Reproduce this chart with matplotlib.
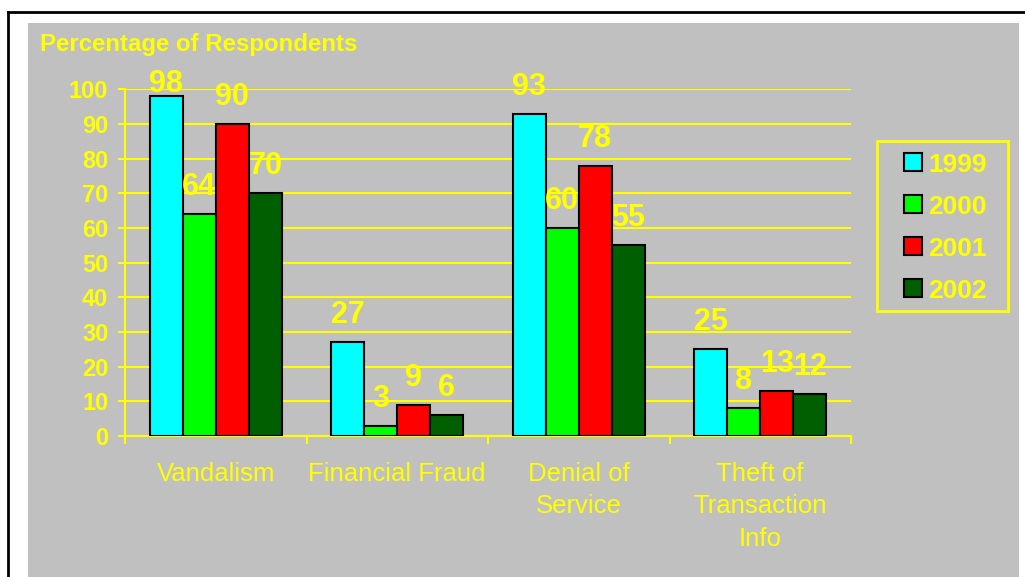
import matplotlib
matplotlib.use("Agg")
import matplotlib.pyplot as plt
from matplotlib.patches import Rectangle
from matplotlib.lines import Line2D
import numpy as np

categories = ["Vandalism", "Financial Fraud", "Denial of\nService", "Theft of\nTransaction\nInfo"]
years = ["1999", "2000", "2001", "2002"]
v1999 = [98, 27, 93, 25]
v2000 = [64, 3, 60, 8]
v2001 = [90, 9, 78, 13]
v2002 = [70, 6, 55, 12]
y_ticks = [0, 10, 20, 30, 40, 50, 60, 70, 80, 90, 100]

series = [v1999, v2000, v2001, v2002]
colors = ["#00FFFF", "#00FF00", "#FF0000", "#006000"]
YEL = "#FFFF00"
GRAY = "#C0C0C0"
FONT = "Liberation Sans"

W, H = 1025, 577
fig = plt.figure(figsize=(W / 100, H / 100), dpi=100)
fig.patch.set_facecolor("white")

# slide-style frame and grey panel
fig.add_artist(Rectangle((28 / W, 0), (1019 - 28) / W, 1 - 23 / H,
                         transform=fig.transFigure, facecolor=GRAY,
                         edgecolor="none", zorder=0))
fig.add_artist(Line2D([8 / W, 1], [1 - 12 / H, 1 - 12 / H],
                      transform=fig.transFigure, color="black", lw=2))
fig.add_artist(Line2D([8 / W, 8 / W], [0, 1 - 12 / H],
                      transform=fig.transFigure, color="black", lw=2))

left, right = 125 / W, 851 / W
bottom, top = 1 - 436 / H, 1 - 89.3 / H
ax = fig.add_axes([left, bottom, right - left, top - bottom])
ax.set_facecolor("none")
ax.set_xlim(-0.5, len(categories) - 0.5)
ax.set_ylim(0, 100)

for s in ["top", "right"]:
    ax.spines[s].set_visible(False)
for s in ["left", "bottom"]:
    ax.spines[s].set_color(YEL)
    ax.spines[s].set_linewidth(1.5)

ax.set_yticks(y_ticks)
ax.set_yticklabels([str(t) for t in y_ticks], fontfamily=FONT,
                   fontweight="bold", fontsize=17, color=YEL)
ax.tick_params(axis="y", length=5, width=1.5, color=YEL, pad=7)
ax.yaxis.grid(True, color=YEL, lw=1.5)
ax.set_axisbelow(True)

x = np.arange(len(categories))
ax.set_xticks(x)
ax.set_xticklabels(categories, fontfamily=FONT, fontsize=18.5, color=YEL,
                   linespacing=1.45)
ax.tick_params(axis="x", which="major", length=0, pad=18.5)
ax.set_xticks(np.arange(len(categories) + 1) - 0.5, minor=True)
ax.tick_params(axis="x", which="minor", length=6, width=1.5, color=YEL,
               direction="out")

bw = 0.182
for j, (vals, c) in enumerate(zip(series, colors)):
    pos = x + (j - 1.5) * bw
    ax.bar(pos, vals, width=bw, color=c, edgecolor="black", lw=1.5, zorder=3)
    for px, v in zip(pos, vals):
        ax.text(px, min(v + 7.8, 101.6), str(v), ha="center", va="center",
                fontfamily=FONT, fontweight="bold", fontsize=22, color=YEL,
                zorder=4, clip_on=False)

fig.text(40 / W, 1 - 51 / H, "Percentage of Respondents", ha="left",
         va="baseline", fontfamily=FONT, fontweight="bold", fontsize=17.3,
         color=YEL)

# legend box with colour keys
fig.add_artist(Rectangle((877 / W, 1 - 311 / H), (1008 - 877) / W,
                         (311 - 141) / H, transform=fig.transFigure,
                         facecolor="none", edgecolor=YEL, lw=2))
for k, (yr, c) in enumerate(zip(years, colors)):
    yc = 162 + k * 42
    fig.add_artist(Rectangle((904 / W, 1 - (yc + 9) / H), 18 / W, 18 / H,
                             transform=fig.transFigure, facecolor=c,
                             edgecolor="black", lw=1.5))
    fig.text(928 / W, 1 - yc / H, yr, ha="left", va="center_baseline",
             fontfamily=FONT, fontweight="bold", fontsize=19, color=YEL)

fig.savefig("out.png", dpi=100)
